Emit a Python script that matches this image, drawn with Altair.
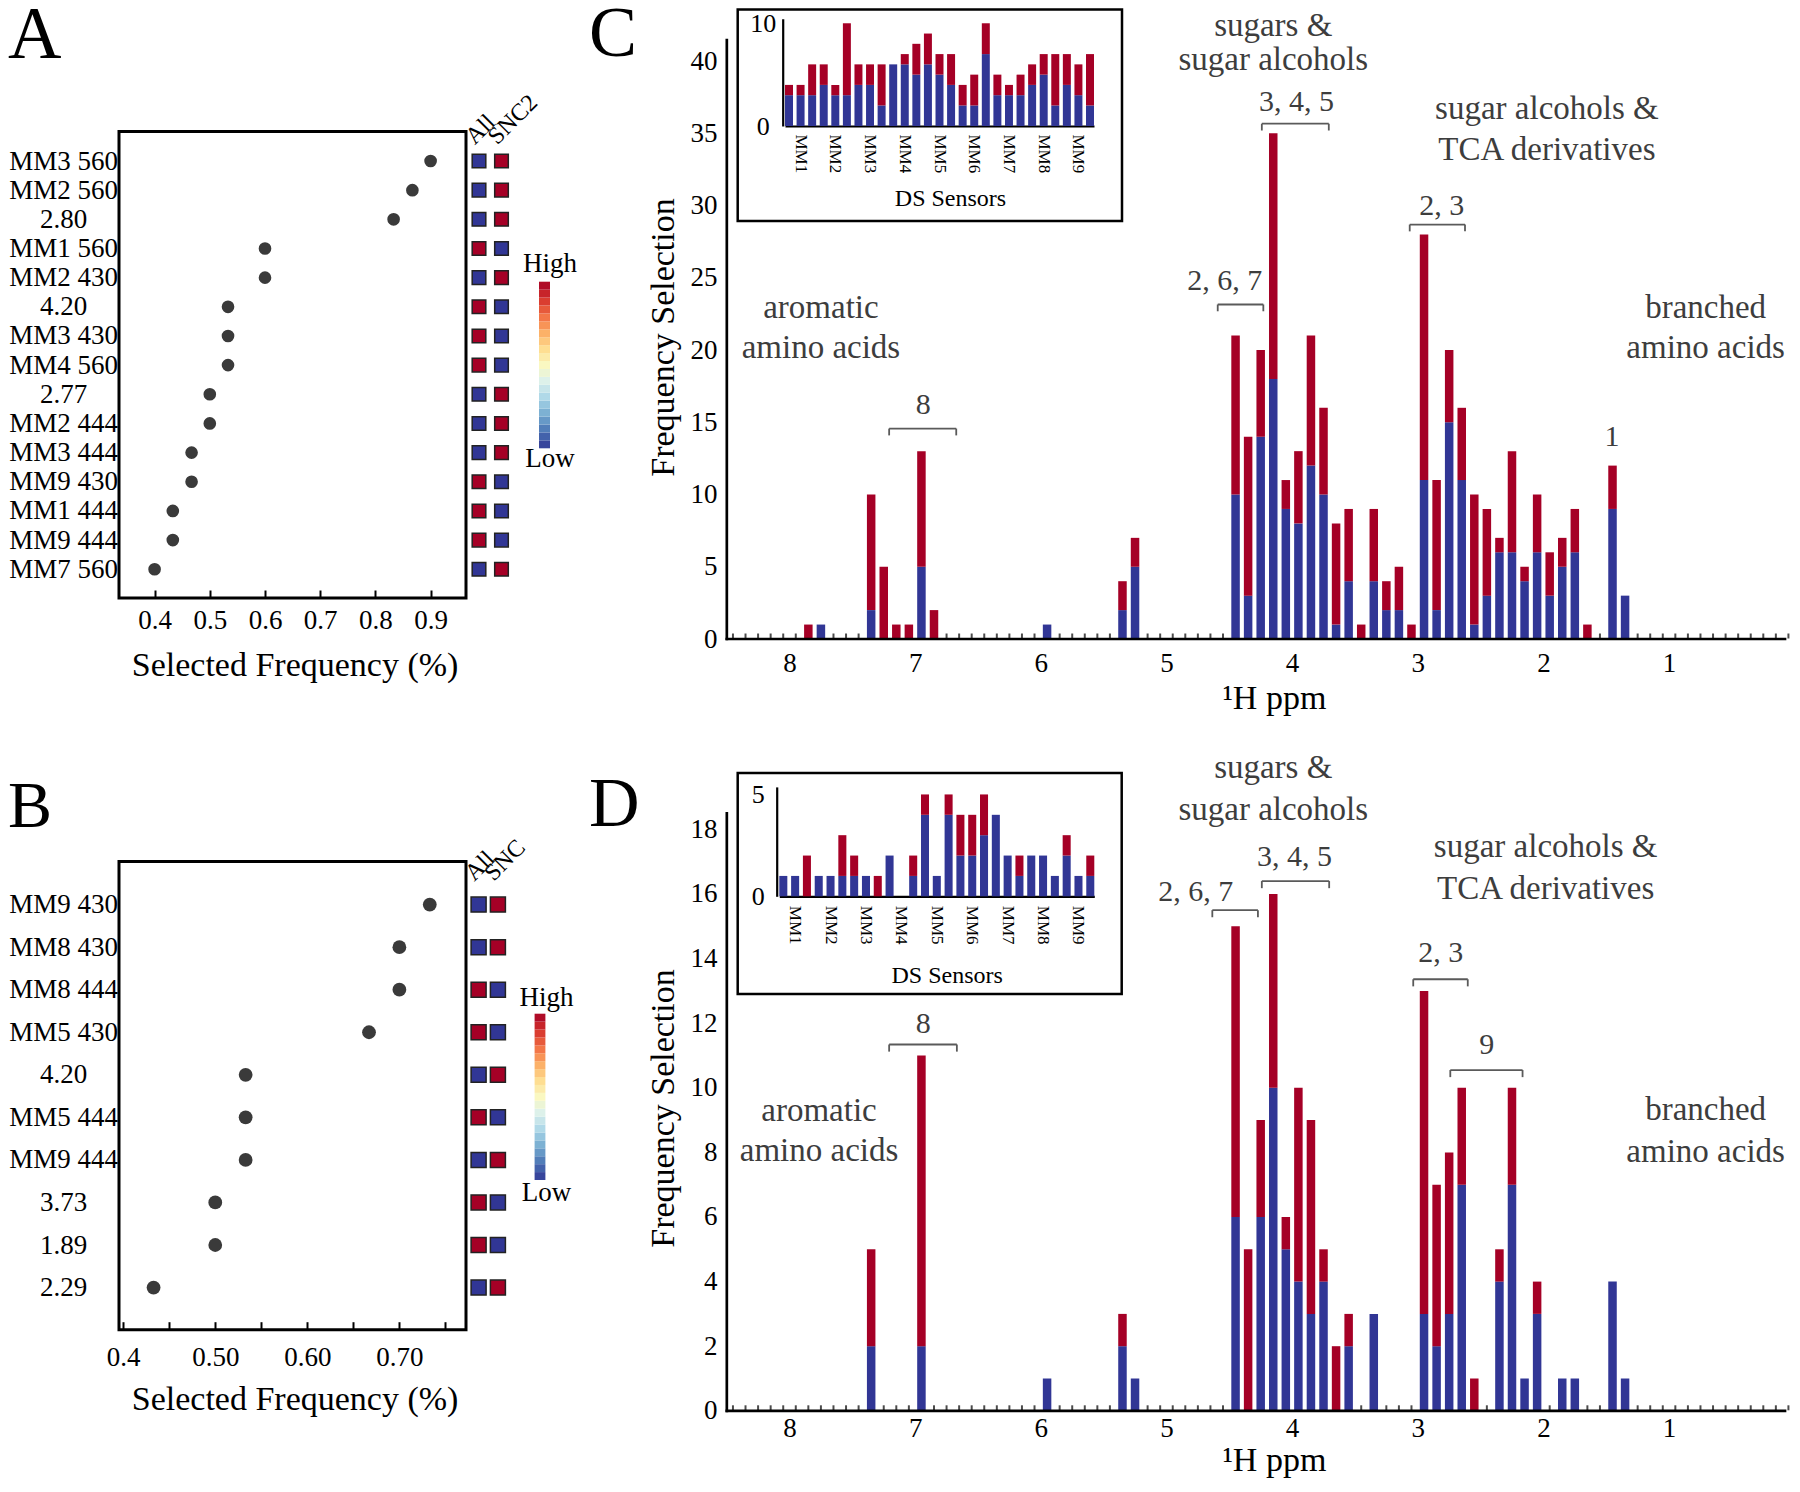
import altair as alt
import pandas as pd

FONT = "Liberation Serif"
RED = "#a50026"
BLUE = "#313695"
INK = "#3a3a3a"
NOTE = "#3d3d3d"
BRACKET = "#5a5a5a"

# ---------------- panel A data ----------------
A_FEATURES = ["MM3 560", "MM2 560", "2.80", "MM1 560", "MM2 430", "4.20", "MM3 430", "MM4 560",
              "2.77", "MM2 444", "MM3 444", "MM9 430", "MM1 444", "MM9 444", "MM7 560"]
A_FREQ = [0.900, 0.867, 0.833, 0.600, 0.600, 0.533, 0.533, 0.533, 0.500, 0.500, 0.467, 0.467, 0.433, 0.433, 0.400]
A_ALL = ["Low", "Low", "Low", "High", "Low", "High", "High", "High", "Low", "Low", "Low", "High", "High", "High", "Low"]
A_SNC2 = ["High", "High", "High", "Low", "High", "Low", "Low", "Low", "High", "High", "High", "Low", "Low", "Low", "High"]
A_COLS = ["All", "SNC2"]

# ---------------- panel B data ----------------
B_FEATURES = ["MM9 430", "MM8 430", "MM8 444", "MM5 430", "4.20", "MM5 444", "MM9 444", "3.73", "1.89", "2.29"]
B_FREQ = [0.733, 0.700, 0.700, 0.667, 0.533, 0.533, 0.533, 0.500, 0.500, 0.433]
B_ALL = ["Low", "Low", "High", "High", "Low", "High", "Low", "High", "High", "Low"]
B_SNC = ["High", "High", "Low", "Low", "High", "Low", "High", "Low", "Low", "High"]
B_COLS = ["All", "SNC"]

# ---------------- panel C data ----------------
C_PPM = [7.85, 7.75, 7.35, 7.25, 7.15, 7.05, 6.95, 6.85, 5.95, 5.35, 5.25,
         4.45, 4.35, 4.25, 4.15, 4.05, 3.95, 3.85, 3.75, 3.65, 3.55, 3.45, 3.35, 3.25, 3.15, 3.05,
         2.95, 2.85, 2.75, 2.65, 2.55, 2.45, 2.35, 2.25, 2.15, 2.05, 1.95, 1.85, 1.75, 1.65, 1.45, 1.35]
C_TOTAL = [1, 1, 10, 5, 1, 1, 13, 2, 1, 4, 7,
           21, 14, 20, 35, 11, 13, 21, 16, 8, 9, 1, 9, 4, 5, 1,
           28, 11, 20, 16, 10, 9, 7, 13, 5, 10, 6, 7, 9, 1, 12, 3]
C_BLUE = [0, 1, 2, 0, 0, 0, 5, 0, 1, 2, 5,
          10, 3, 14, 18, 9, 8, 12, 10, 1, 4, 0, 4, 2, 2, 0,
          11, 2, 15, 11, 1, 3, 6, 6, 4, 6, 3, 5, 6, 0, 9, 3]

# ---------------- panel D data ----------------
D_PPM = [7.35, 6.95, 5.95, 5.35, 5.25, 4.45, 4.35, 4.25, 4.15, 4.05, 3.95, 3.85, 3.75, 3.65, 3.55,
         3.35, 2.95, 2.85, 2.75, 2.65, 2.55, 2.35, 2.25, 2.15, 2.05, 1.85, 1.75, 1.45, 1.35]
D_TOTAL = [5, 11, 1, 3, 1, 15, 5, 9, 16, 6, 10, 9, 5, 2, 3, 3, 13, 7, 8, 10, 1, 5, 10, 1, 4, 1, 1, 4, 1]
D_BLUE = [2, 2, 1, 2, 1, 6, 0, 6, 10, 5, 4, 3, 4, 0, 2, 3, 3, 2, 3, 7, 0, 4, 7, 1, 3, 1, 1, 4, 1]

# ---------------- insets (DS sensors) ----------------
SENSORS = ["MM1", "MM2", "MM3", "MM4", "MM5", "MM6", "MM7", "MM8", "MM9"]
WAVES = ["430", "444", "560"]
C_INSET_TOTAL = [4, 4, 6, 6, 4, 10, 6, 6, 6, 6, 7, 8, 9, 7, 7, 4, 5, 10, 5, 4, 5, 6, 7, 7, 7, 6, 7]
C_INSET_BLUE = [3, 3, 3, 4, 3, 3, 4, 4, 2, 6, 6, 5, 6, 5, 4, 2, 2, 7, 3, 3, 3, 4, 5, 2, 4, 3, 2]
D_INSET_TOTAL = [1, 1, 2, 1, 1, 3, 2, 1, 1, 2, 0, 2, 5, 1, 5, 4, 4, 5, 4, 2, 2, 2, 2, 1, 3, 1, 2]
D_INSET_BLUE = [1, 1, 0, 1, 1, 1, 1, 1, 0, 2, 0, 1, 4, 1, 4, 2, 2, 3, 4, 2, 1, 2, 2, 1, 2, 1, 1]

# ---------------- annotations ----------------
C_NOTE_TEXT = ["sugars &", "sugar alcohols", "sugar alcohols &", "TCA derivatives", "branched", "amino acids",
               "aromatic", "amino acids", "8", "2, 6, 7", "3, 4, 5", "2, 3", "1"]
C_NOTE_X = [4.15, 4.15, 1.972, 1.972, 0.709, 0.709, 7.75, 7.75, 6.936, 4.537, 3.966, 2.81, 1.454]
C_NOTE_Y = [42.42, 40.07, 36.65, 33.87, 22.91, 20.14, 22.93, 20.15, 16.19, 24.76, 37.18, 29.95, 14.0]
C_BR_X1 = [7.207, 4.592, 4.241, 3.064]
C_BR_X2 = [6.673, 4.229, 3.708, 2.624]
C_BR_Y = [14.56, 23.15, 35.66, 28.68]

D_NOTE_TEXT = ["sugars &", "sugar alcohols", "sugar alcohols &", "TCA derivatives", "branched", "amino acids",
               "aromatic", "amino acids", "8", "2, 6, 7", "3, 4, 5", "2, 3", "9"]
D_NOTE_X = [4.15, 4.15, 1.982, 1.982, 0.709, 0.709, 7.765, 7.765, 6.936, 4.766, 3.98, 2.817, 2.451]
D_NOTE_Y = [19.89, 18.59, 17.44, 16.15, 9.30, 8.0, 9.27, 8.03, 11.99, 16.07, 17.15, 14.17, 11.32]
D_BR_X1 = [7.207, 4.635, 4.241, 3.036, 2.741]
D_BR_X2 = [6.668, 4.272, 3.705, 2.602, 2.166]
D_BR_Y = [11.34, 15.5, 16.4, 13.36, 10.55]

SEGSCALE = alt.Scale(domain=["blue", "red"], range=[BLUE, RED])
LVSCALE = alt.Scale(domain=["High", "Low"], range=[RED, BLUE])
ONE = pd.DataFrame({"k": [0]})


def segments(keys, total, blue, keyname):
    rows = []
    for k, t, b in zip(keys, total, blue):
        if b > 0:
            rows.append({keyname: k, "y0": 0, "y1": b, "seg": "blue"})
        if t > b:
            rows.append({keyname: k, "y0": b, "y1": t, "seg": "red"})
    return pd.DataFrame(rows)


def letter_mark(letter, x, y, size):
    return alt.Chart(pd.DataFrame({"t": [letter]})).mark_text(
        align="left", baseline="alphabetic", fontSize=size, font=FONT, color="black", clip=True
    ).encode(x=alt.value(x), y=alt.value(y), text="t:N")


def dot_panel(letter, rows, freq, lv_a, lv_b, cols, g):
    n = len(rows)
    xs = alt.Scale(domain=g["xdom"], nice=False, zero=False)
    ys = alt.Scale(domain=g["ydom"], nice=False, zero=False)
    arr = "[" + ",".join("'" + r + "'" for r in rows) + "]"
    x_axis = alt.Axis(values=g["xvals"], labelExpr=g["xlabel"], tickSize=8, tickWidth=2, tickColor="black",
                      offset=-8, domain=False, grid=False, labelPadding=g["lab_pad"], labelFontSize=27,
                      labelFlush=False, labelOverlap=False, title="Selected Frequency (%)", titleFontSize=34,
                      titleX=286.6, titleY=g["title_y"], titleBaseline="alphabetic", titleAlign="center")
    y_axis = alt.Axis(values=list(range(n)), labelExpr=arr + "[datum.value]", orient="left", offset=-111,
                      ticks=False, tickSize=0, domain=False, grid=False, labelAlign="center",
                      labelBaseline="middle", labelPadding=56, labelFontSize=27, labelFlush=False,
                      labelOverlap=False, title="")
    dots = alt.Chart(pd.DataFrame({"r": list(range(n)), "f": freq})).mark_circle(
        size=g["dot_size"], color=INK, opacity=1
    ).encode(x=alt.X("f:Q", scale=xs, axis=x_axis), y=alt.Y("r:Q", scale=ys, axis=y_axis))
    frame = alt.Chart(pd.DataFrame({"x1": [g["frame_x"][0]], "x2": [g["frame_x"][1]],
                                    "y1": [g["frame_top"]], "y2": [g["ydom"][0]]})).mark_rect(
        fillOpacity=0, stroke="black", strokeWidth=3
    ).encode(x=alt.X("x1:Q", scale=xs), x2="x2:Q", y=alt.Y("y1:Q", scale=ys), y2="y2:Q")
    anchor = alt.Chart(ONE).mark_rule(opacity=0).encode(x=alt.value(0), y=alt.value(0), y2=alt.value(1))
    main = alt.layer(dots, frame, letter_mark(letter, 0, g["letter_y"], g["letter_size"]), anchor)

    sq_rows = []
    for i in range(n):
        sq_rows.append({"r": i, "col": cols[0], "lv": lv_a[i]})
        sq_rows.append({"r": i, "col": cols[1], "lv": lv_b[i]})
    xsq = alt.Scale(type="point", domain=cols, range=g["sq_range"], padding=0)
    squares = alt.Chart(pd.DataFrame(sq_rows)).mark_square(
        size=g["sq_size"], opacity=1, stroke="#222222", strokeWidth=1.5
    ).encode(x=alt.X("col:N", scale=xsq, axis=None), y=alt.Y("r:Q", scale=ys, axis=None),
             color=alt.Color("lv:N", scale=LVSCALE, legend=None))
    heads = alt.Chart(pd.DataFrame({"col": cols})).mark_text(
        angle=315, align="left", baseline="alphabetic", fontSize=24, dx=-6, color="black", font=FONT
    ).encode(x=alt.X("col:N", scale=xsq, axis=None), y=alt.datum(g["head_row"], axis=None), text="col:N")
    sq_layer = alt.layer(squares, heads)

    nb = 21
    cb = pd.DataFrame({"v0": [i / nb for i in range(nb)], "v1": [(i + 1) / nb for i in range(nb)],
                       "vm": [(i + 0.5) / nb for i in range(nb)]})
    cbar = alt.Chart(cb).mark_rect().encode(
        x=alt.value(g["cb_x"][0]), x2=alt.value(g["cb_x"][1]),
        y=alt.Y("v0:Q", scale=alt.Scale(domain=[0, 1], range=g["cb_yr"], nice=False, zero=False), axis=None),
        y2="v1:Q",
        color=alt.Color("vm:Q", scale=alt.Scale(scheme="redyellowblue", reverse=True, domain=[0, 1]), legend=None))
    hi = alt.Chart(ONE).mark_text(fontSize=27, font=FONT, color="black", baseline="middle").encode(
        x=alt.value(g["high"][0]), y=alt.value(g["high"][1]), text=alt.value("High"))
    lo = alt.Chart(ONE).mark_text(fontSize=27, font=FONT, color="black", baseline="middle").encode(
        x=alt.value(g["low"][0]), y=alt.value(g["low"][1]), text=alt.value("Low"))
    cb_layer = alt.layer(cbar, hi, lo)

    return alt.layer(main, sq_layer, cb_layer).resolve_scale(
        x="independent", y="independent", color="independent"
    ).properties(width=458, height=g["height"])


XDOM = [9.6275, 0.0773]
XAXIS_AT = 8.4988
XLABELS = [8, 7, 6, 5, 4, 3, 2, 1]
XTICKS = [round(8.45 - 0.1 * i, 2) for i in range(85)]
IDS = [s + " " + w for s in SENSORS for w in WAVES]


def spectrum(letter, ppm, total, blue, itotal, iblue, ntext, nx, ny, bx1, bx2, by, g):
    xs = alt.Scale(domain=XDOM, nice=False, zero=False)
    ys = alt.Scale(domain=[0, g["ytop"]], nice=False, zero=False)
    x_axis = alt.Axis(values=XLABELS, format="d", labelOverlap=False, labelFlush=False,
                      ticks=False, tickSize=0, domain=False, grid=False,
                      labelPadding=g["xlab_pad"], labelFontSize=27, title="\u00b9H ppm", titleFontSize=34,
                      titleX=694, titleY=g["xtitle_y"], titleBaseline="alphabetic", titleAlign="center")
    y_axis = alt.Axis(values=g["yvals"], ticks=False, tickSize=0, domain=False, grid=False, offset=-143,
                      labelPadding=6, labelFontSize=27, labelFlush=False, title="Frequency Selection",
                      titleFontSize=34, titleX=-60, titleY=g["ytitle_y"], titleAngle=270, titleAlign="center",
                      titleBaseline="middle")
    minor = alt.Chart(pd.DataFrame({"t": XTICKS})).mark_tick(
        orient="vertical", size=5, thickness=2, color="black", yOffset=-3
    ).encode(x=alt.X("t:Q", scale=xs), y=alt.datum(0))
    bars = alt.Chart(segments(ppm, total, blue, "ppm")).mark_bar(width=8.5).encode(
        x=alt.X("ppm:Q", scale=xs, axis=x_axis), y=alt.Y("y0:Q", scale=ys, axis=y_axis), y2="y1:Q",
        color=alt.Color("seg:N", scale=SEGSCALE, legend=None))
    yrule = alt.Chart(pd.DataFrame({"x": [XAXIS_AT], "y0": [0], "y1": [g["yaxis_top"]]})).mark_rule(
        color="black", strokeWidth=2.7, strokeCap="square"
    ).encode(x=alt.X("x:Q", scale=xs), y=alt.Y("y0:Q", scale=ys), y2="y1:Q")
    xrule = alt.Chart(pd.DataFrame({"x0": [XAXIS_AT], "x1": [XDOM[1]], "y": [0]})).mark_rule(
        color="black", strokeWidth=2.7, strokeCap="square"
    ).encode(x=alt.X("x0:Q", scale=xs), x2="x1:Q", y=alt.Y("y:Q", scale=ys))
    br = pd.DataFrame({"x1": bx1, "x2": bx2, "y": by, "yb": [v - g["tip"] for v in by]})
    br_h = alt.Chart(br).mark_rule(color=BRACKET, strokeWidth=1.8).encode(
        x=alt.X("x1:Q", scale=xs), x2="x2:Q", y=alt.Y("y:Q", scale=ys))
    br_l = alt.Chart(br).mark_rule(color=BRACKET, strokeWidth=1.8).encode(
        x=alt.X("x1:Q", scale=xs), y=alt.Y("y:Q", scale=ys), y2="yb:Q")
    br_r = alt.Chart(br).mark_rule(color=BRACKET, strokeWidth=1.8).encode(
        x=alt.X("x2:Q", scale=xs), y=alt.Y("y:Q", scale=ys), y2="yb:Q")
    notes = pd.DataFrame({"t": ntext, "x": nx, "y": ny,
                          "fs": [30 if t[0].isdigit() else 33 for t in ntext]})
    txt = alt.Chart(notes).mark_text(font=FONT, color=NOTE, baseline="middle", align="center", clip=True).encode(
        x=alt.X("x:Q", scale=xs), y=alt.Y("y:Q", scale=ys), text="t:N",
        size=alt.Size("fs:Q", scale=None))
    main = alt.layer(minor, bars, yrule, xrule, br_h, br_l, br_r, txt,
                     letter_mark(letter, 9, g["letter_y"], g["letter_size"]))

    fr = g["ins_frame"]
    iframe = alt.Chart(ONE).mark_rect(fillOpacity=0, stroke="black", strokeWidth=2.5).encode(
        x=alt.value(fr[0]), x2=alt.value(fr[1]), y=alt.value(fr[2]), y2=alt.value(fr[3]))
    ix_axis = alt.Axis(orient="bottom", offset=g["ins_xoff"],
                       labelExpr="indexof(datum.value, '444') >= 0 ? substring(datum.value, 0, 3) : ''",
                       labelAngle=90, labelFontSize=17, labelPadding=g["ins_xlab_pad"], ticks=False,
                       domain=True, domainColor="black", domainWidth=2.2, grid=False, title="DS Sensors",
                       titleFontSize=24, titleX=g["ins_title_x"], titleY=g["ins_title_y"],
                       titleBaseline="alphabetic", titleAlign="center")
    iy_axis = alt.Axis(orient="left", offset=g["ins_yoff"], values=g["ins_yvals"], ticks=False, tickSize=0,
                       domain=True, domainColor="black", domainWidth=2.2, grid=False, labelAlign="center",
                       labelBaseline="middle", labelPadding=g["ins_ylab_pad"], labelFontSize=26,
                       labelFlush=False, title="")
    ibars = alt.Chart(segments(IDS, itotal, iblue, "id")).mark_bar().encode(
        x=alt.X("id:N", sort=IDS, scale=alt.Scale(domain=IDS, range=g["ins_xr"], paddingInner=g["ins_pi"],
                                                  paddingOuter=0), axis=ix_axis),
        y=alt.Y("y0:Q", scale=alt.Scale(domain=[0, g["ins_top"]], range=g["ins_yr"], nice=False, zero=False),
                axis=iy_axis),
        y2="y1:Q",
        color=alt.Color("seg:N", scale=SEGSCALE, legend=None))
    inset = alt.layer(iframe, ibars)
    return alt.layer(main, inset).resolve_scale(
        x="independent", y="independent", color="independent"
    ).properties(width=1210, height=g["height"])


GA = dict(height=590, xdom=[0.13442, 0.96413], frame_x=[0.33551, 0.96413], ydom=[14.986, -5.2469],
          frame_top=-1.0151, xvals=[0.4, 0.5, 0.6, 0.7, 0.8, 0.9], xlabel="format(datum.value, '.1f')",
          lab_pad=9, title_y=85.5, dot_size=160, sq_range=[471, 493.5], sq_size=185, head_row=-0.68,
          cb_x=[531, 542], cb_yr=[440.3, 273.7], high=(542, 255.9), low=(542, 450.9), letter_y=50,
          letter_size=74)
GB = dict(height=577.7, xdom=[0.27487, 0.77236], frame_x=[0.39544, 0.77236], ydom=[9.9906, -3.5864],
          frame_top=-1.0106, xvals=[0.4, 0.45, 0.5, 0.55, 0.6, 0.65, 0.7, 0.75],
          xlabel="datum.value == 0.4 ? '0.4' : (abs(datum.value * 10 - round(datum.value * 10)) < 0.01 ? format(datum.value, '.2f') : '')",
          lab_pad=15, title_y=87.3, dot_size=190, sq_range=[470.6, 489.9], sq_size=225, head_row=-0.63,
          cb_x=[526.6, 537.4], cb_yr=[428, 261.7], high=(538.6, 245.5), low=(538.6, 441), letter_y=75,
          letter_size=66)
GC = dict(height=631, ytop=43.668, yaxis_top=41.45, yvals=list(range(0, 41, 5)), ytitle_y=329, xlab_pad=11,
          xtitle_y=69, ins_frame=[157.7, 542, 1.5, 213], ins_xr=[205, 514], ins_pi=0.31, ins_top=10.44,
          ins_yr=[118, 10.75], ins_xoff=-513, ins_yoff=-202.7, ins_yvals=[0, 10], ins_ylab_pad=20,
          ins_xlab_pad=8, ins_title_x=370, ins_title_y=79.4, letter_y=48, letter_size=72, tip=0.47)
GD = dict(height=658.8, ytop=20.396, yaxis_top=18.5, yvals=list(range(0, 19, 2)), ytitle_y=356, xlab_pad=5,
          xtitle_y=60, ins_frame=[157.7, 541.7, 21, 242], ins_xr=[199.3, 514.3], ins_pi=0.32, ins_top=5.37,
          ins_yr=[144.3, 34.9], ins_xoff=-514.5, ins_yoff=-196.7, ins_yvals=[0, 5], ins_ylab_pad=19,
          ins_xlab_pad=9, ins_title_x=366.7, ins_title_y=85.9, letter_y=74, letter_size=70, tip=0.22)

panel_a = dot_panel("A", A_FEATURES, A_FREQ, A_ALL, A_SNC2, A_COLS, GA)
panel_b = dot_panel("B", B_FEATURES, B_FREQ, B_ALL, B_SNC, B_COLS, GB)
panel_c = spectrum("C", C_PPM, C_TOTAL, C_BLUE, C_INSET_TOTAL, C_INSET_BLUE,
                   C_NOTE_TEXT, C_NOTE_X, C_NOTE_Y, C_BR_X1, C_BR_X2, C_BR_Y, GC)
panel_d = spectrum("D", D_PPM, D_TOTAL, D_BLUE, D_INSET_TOTAL, D_INSET_BLUE,
                   D_NOTE_TEXT, D_NOTE_X, D_NOTE_Y, D_BR_X1, D_BR_X2, D_BR_Y, GD)

chart = alt.concat(
    panel_a, panel_c, panel_b, panel_d,
    columns=2, spacing=alt.RowColnumber(row=113, column=114), bounds="flush"
).resolve_scale(color="independent").properties(
    padding=0
).configure(font=FONT).configure_axis(
    labelFont=FONT, titleFont=FONT, titleFontWeight="normal", labelColor="black", titleColor="black"
).configure_text(font=FONT).configure_view(strokeWidth=0)

chart.save("out.html", embed_options={"renderer": "svg", "actions": False})
